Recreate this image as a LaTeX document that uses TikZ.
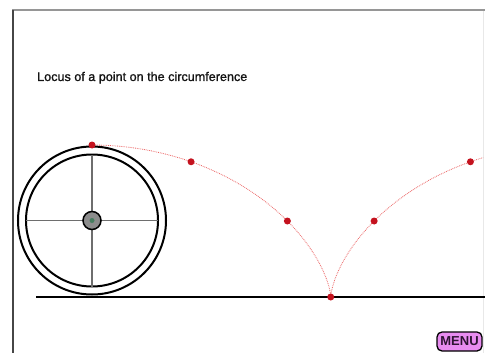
\documentclass[tikz,border=0pt]{standalone}
\usepackage{fontspec}
\setmainfont{Liberation Sans}
\newfontfamily\titlefont[FakeBold=1.2]{Liberation Sans}
\definecolor{locusred}{RGB}{236,100,100}
\definecolor{dotred}{RGB}{196,18,30}
\definecolor{spokegray}{RGB}{110,110,110}
\definecolor{hubgray}{RGB}{140,140,140}
\definecolor{hubgreen}{RGB}{70,125,95}
\definecolor{menupink}{RGB}{232,140,240}
\definecolor{menutext}{RGB}{45,20,50}
\tikzset{
  framel/.style={draw={rgb,255:red,70;green,70;blue,70}, line width=2pt},
  framet/.style={draw={rgb,255:red,150;green,150;blue,150}, line width=1.6pt},
  framer/.style={draw={rgb,255:red,232;green,232;blue,232}, line width=0.8pt},
  rim/.style={draw=black, line width=2pt},
  spoke/.style={draw=spokegray, line width=1.2pt},
  ground/.style={draw=black, line width=2pt},
  locus/.style={draw=locusred, densely dotted, line width=0.8pt},
  dot/.style={circle, fill=dotred, inner sep=0pt, minimum size=7pt},
  menubtn/.style={draw=black, line width=1.3pt, fill=menupink, rounded corners=5pt, minimum width=45pt, minimum height=19pt, inner sep=0pt, font=\fontsize{13}{14}\selectfont\bfseries, text=menutext},
  title/.style={font=\titlefont\fontsize{12.6}{14}\selectfont, text={rgb,255:red,20;green,20;blue,20}, inner sep=0pt, anchor=base west}
}
\begin{document}
\begin{tikzpicture}[x=1pt,y=-1pt]
\useasboundingbox (0,0) rectangle (485,353);
\fill[white] (0,0) rectangle (485,353);
% frame
\draw[framer] (483,11) -- (483,353);
\draw[framet] (12,10) -- (485,10);
\draw[framel] (13,10) -- (13,353);
% title
\node[title] (ttl) at (37,81) {Locus of a point on the circumference};
% ground
\coordinate (g0) at (36,297);
\coordinate (g1) at (485,297);
\draw[ground] (g0) -- (g1);
% wheel
\coordinate (c) at (92,220.5);
\draw[rim] (c) circle[radius=74];
\draw[rim] (c) circle[radius=66];
\draw[spoke] ([yshift=-66pt]c) -- ([yshift=66pt]c);
\draw[spoke] ([xshift=-66pt]c) -- ([xshift=66pt]c);
\node[circle, draw=black, line width=1.5pt, fill=hubgray, minimum size=18pt, inner sep=0pt] (hub) at (c) {};
\node[circle, fill=hubgreen, minimum size=5pt, inner sep=0pt] (axle) at (c) {};
% locus
\begin{scope}
\clip (0,0) rectangle (483,353);
\draw[locus] plot[domain=0:5.75, samples=160, variable=\t] ({92+76*(\t+sin(\t r))},{297-76*(1+cos(\t r))});
\end{scope}
\foreach \n/\t in {p0/0, p1/0.677, p2/1.5708, p3/3.14159, p4/4.71239, p5/5.606}{
  \node[dot] (\n) at ({92+76*(\t+sin(\t r))},{297-76*(1+cos(\t r))}) {};
}
% menu
\node[menubtn] (menu) at (459.5,341.5) {MENU};
\end{tikzpicture}
\end{document}
